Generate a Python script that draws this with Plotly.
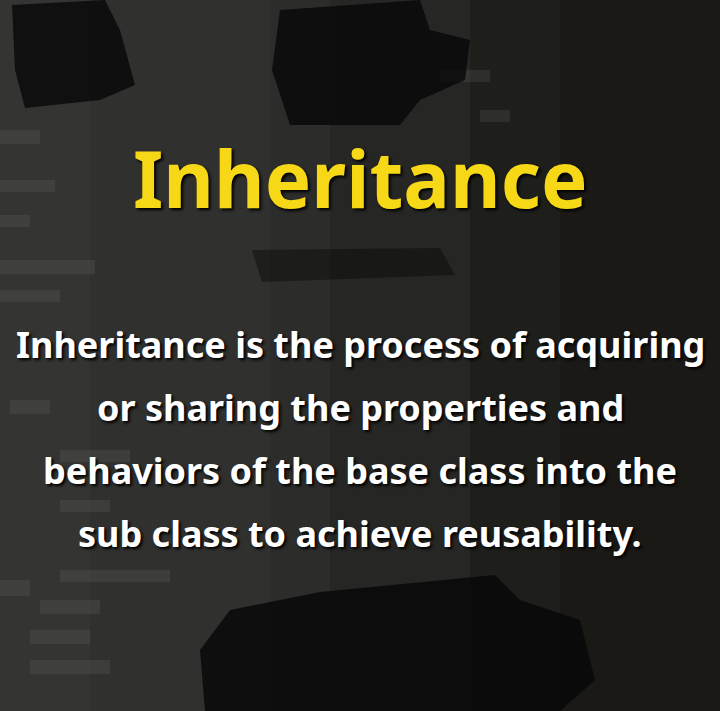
import plotly.graph_objs as go


# text content of the card
title_text = "Inheritance"
body_lines = ["Inheritance is the process of acquiring",
              "or sharing the properties and",
              "behaviors of the base class into the",
              "sub class to achieve reusability."]

W, H = 720, 711

fig = go.Figure()

# background: lighter blurred editor on the left, darker to the right
bands = [(0, 90, "rgb(52,52,50)"), (90, 270, "rgb(48,48,46)"),
         (270, 330, "rgb(44,44,42)"), (330, 470, "rgb(38,38,36)"),
         (470, 560, "rgb(30,30,27)"), (560, 720, "rgb(26,25,22)")]
for x0, x1, col in bands:
    fig.add_shape(type="rect", x0=x0, y0=0, x1=x1, y1=H,
                  fillcolor=col, line_width=0, layer="below")

# faint blurred code lines
stripes = [(0, 130, 40, 14), (0, 180, 55, 12), (0, 215, 30, 12), (0, 260, 95, 14),
           (0, 290, 60, 12), (10, 400, 40, 14), (60, 450, 70, 12), (60, 500, 50, 12),
           (0, 580, 30, 16), (40, 600, 60, 14), (30, 630, 60, 14), (30, 660, 80, 14),
           (60, 570, 110, 12), (480, 110, 30, 12), (440, 70, 50, 12)]
for x0, y0, w, h in stripes:
    fig.add_shape(type="rect", x0=x0, y0=y0, x1=x0 + w, y1=y0 + h,
                  fillcolor="rgba(120,120,120,0.18)", line_width=0, layer="below")

# blacked-out logo spots
blots = [("M 12 5 L 105 0 L 120 30 L 135 85 L 100 100 L 25 108 L 15 70 Z", 0.8),
         ("M 280 10 L 420 0 L 430 30 L 470 40 L 465 80 L 420 100 L 400 125 L 290 125 L 272 70 Z", 0.8),
         ("M 230 610 L 320 592 L 495 575 L 520 600 L 580 620 L 595 680 L 560 711 L 205 711 L 200 650 Z", 0.85),
         ("M 252 250 L 440 248 L 455 275 L 262 282 Z", 0.45)]
for p, op in blots:
    fig.add_shape(type="path", path=p, fillcolor="rgba(8,8,8,%s)" % op,
                  line_width=0, layer="below")

fig.add_annotation(x=W / 2, y=178, text="<b>%s</b>" % title_text, showarrow=False,
                   xanchor="center", yanchor="middle",
                   font=dict(family="Noto Sans", size=78, color="#f6d816",
                             shadow="2px 2px 3px #000"))

for i, line in enumerate(body_lines):
    fig.add_annotation(x=W / 2, y=344 + i * 63, text="<b>%s</b>" % line, showarrow=False,
                       xanchor="center", yanchor="middle",
                       font=dict(family="Noto Sans", size=36, color="#ffffff",
                                 shadow="2px 2px 3px #000"))

fig.update_layout(width=W, height=H,
                  margin=dict(l=0, r=0, t=0, b=0),
                  paper_bgcolor="#1e1e1c", plot_bgcolor="#1e1e1c",
                  showlegend=False,
                  xaxis=dict(range=[0, W], visible=False, fixedrange=True),
                  yaxis=dict(range=[H, 0], visible=False, fixedrange=True))

fig.write_html("out.html", config={"displayModeBar": False},
               post_script="document.body.style.margin='0';")
